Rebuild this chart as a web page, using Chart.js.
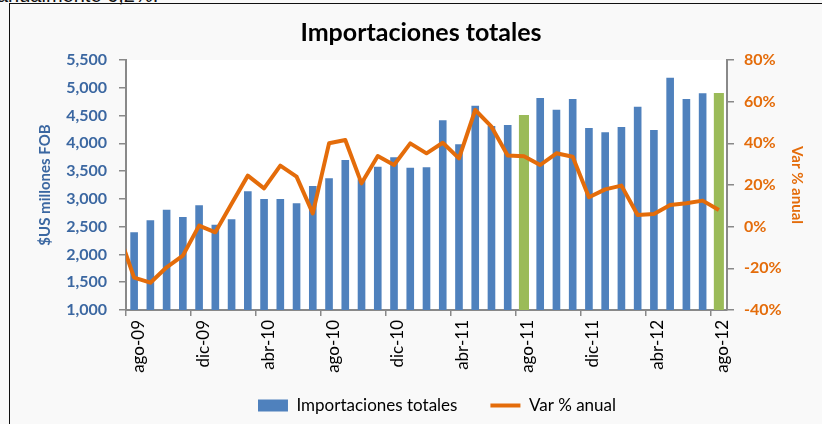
<!DOCTYPE html>
<html lang="es">
<head>
<meta charset="utf-8">
<title>Importaciones totales</title>
<script src="https://cdn.jsdelivr.net/npm/chart.js@4.4.1/dist/chart.umd.min.js"></script>
<style>
  html, body { margin: 0; padding: 0; background: #fff; overflow: hidden; }
  #wrap { position: relative; width: 822px; height: 424px; overflow: hidden; background: #f9f9f9; }
  #frame { position: absolute; left: 9px; top: 3px; right: -4px; bottom: -4px; border-left: 1.5px solid #111; border-top: 1.5px solid #111; pointer-events: none; }
  #prev { position: absolute; left: -3px; top: -16px; font: 20px 'Liberation Sans', sans-serif; color: #111; white-space: nowrap; }
  canvas { position: absolute; left: 0; top: 0; }
</style>
</head>
<body>
<div id="wrap">
  <div id="prev">anualmente 6,2%.</div>
  <canvas id="importChart" width="822" height="424"></canvas>
  <div id="frame"></div>
</div>
<script>
// ── DATOS ─────────────────────────────────────────────
// jul-09 solo aporta el tramo de la linea que entra por la izquierda
const meses = ['jul-09', 'ago-09', 'sep-09', 'oct-09', 'nov-09', 'dic-09', 'ene-10', 'feb-10', 'mar-10', 'abr-10', 'may-10', 'jun-10', 'jul-10',
    'ago-10', 'sep-10', 'oct-10', 'nov-10', 'dic-10', 'ene-11', 'feb-11', 'mar-11', 'abr-11', 'may-11', 'jun-11', 'jul-11',
    'ago-11', 'sep-11', 'oct-11', 'nov-11', 'dic-11', 'ene-12', 'feb-12', 'mar-12', 'abr-12', 'may-12', 'jun-12', 'jul-12', 'ago-12'];
const importaciones = [null, 2400, 2615, 2806, 2674, 2884, 2536, 2632, 3136, 3000, 3000, 2920, 3232,
    3370, 3700, 3352, 3580, 3748, 3562, 3570, 4414, 3982, 4678, 4312, 4330,
    4510, 4816, 4606, 4798, 4276, 4198, 4294, 4660, 4240, 5182, 4798, 4900, 4906];
const varAnual = [-2, -24.5, -26.9, -19.5, -13.9, 0.5, -2.7, 11, 24.5, 18.4, 29.3, 24, 6.4,
    40, 41.6, 20.8, 33.9, 29.6, 40, 35.2, 40.3, 32.8, 56, 48, 34.2,
    33.8, 29.6, 35.2, 33.6, 14.1, 17.9, 19.7, 5.6, 6.1, 10.4, 11.2, 12.5, 8];
const destacados = ['ago-11', 'ago-12'];
const etiquetasX = ['ago-09', 'dic-09', 'abr-10', 'ago-10', 'dic-10', 'abr-11', 'ago-11', 'dic-11', 'abr-12', 'ago-12'];
const ticksUS = [1000, 1500, 2000, 2500, 3000, 3500, 4000, 4500, 5000, 5500];
const ticksPct = [-40, -20, 0, 20, 40, 60, 80];

// ── ESTILO ────────────────────────────────────────────
const AZUL = '#4F81BD', VERDE = '#9BBB59', NARANJA = '#E46C0A', GRIS = '#898989', AZUL_TXT = '#3B67A1';
const FUENTE = 'Lato, "Open Sans", sans-serif';

const barrasAzul = importaciones.map((v, i) => destacados.includes(meses[i]) ? null : v);
const barrasVerde = importaciones.map((v, i) => destacados.includes(meses[i]) ? v : null);

const fondoPlot = {
    id: 'fondoPlot',
    beforeDraw(chart) {
        const { ctx, chartArea: a } = chart;
        ctx.save(); ctx.fillStyle = '#fff'; ctx.fillRect(a.left, a.top, a.right - a.left, a.bottom - a.top); ctx.restore();
    },
    afterLayout(chart) {
        chart.legend.left += 16; chart.legend.right += 16;
        chart.scales.x.bottom += 20;   // las etiquetas se recortan a la caja del eje
    }
};

// ── CHART.JS ──────────────────────────────────────────
new Chart(document.getElementById('importChart'), {
    type: 'bar',
    data: {
        labels: meses,
        datasets: [
            { label: 'Importaciones totales', data: barrasAzul, backgroundColor: AZUL, yAxisID: 'y', grouped: false,
              barPercentage: 0.47, categoryPercentage: 1, pointStyle: 'rect', order: 1 },
            { label: 'verde', data: barrasVerde, backgroundColor: VERDE, yAxisID: 'y', grouped: false,
              barPercentage: 0.62, categoryPercentage: 1, order: 1 },
            { type: 'line', label: 'Var % anual', data: varAnual, yAxisID: 'y2', borderColor: NARANJA, backgroundColor: NARANJA,
              borderWidth: 4, pointRadius: 0, tension: 0, borderJoinStyle: 'round', pointStyle: 'line', order: 0 }
        ]
    },
    options: {
        responsive: false, animation: false, devicePixelRatio: 1,
        layout: { padding: { left: 20, right: 0, top: 0, bottom: 0 } },
        plugins: {
            title: { display: true, text: 'Importaciones totales', color: '#000', font: { family: FUENTE, size: 25, weight: 'bold' }, padding: { top: 18, bottom: 12 } },
            legend: {
                position: 'bottom',
                labels: {
                    usePointStyle: true, pointStyleWidth: 30, boxHeight: 12, padding: 33, color: '#000',
                    font: { family: FUENTE, size: 17 },
                    filter: item => item.text !== 'verde',
                    sort: (a, b) => a.datasetIndex - b.datasetIndex
                }
            },
            tooltip: { enabled: false }
        },
        scales: {
            x: {
                type: 'category', min: 'ago-09', offset: true,
                grid: { offset: true, drawOnChartArea: false, tickLength: 6, lineWidth: 1.5,
                        color: c => (c.tick && etiquetasX.includes(meses[c.tick.value])) ? GRIS : 'rgba(0,0,0,0)' },
                border: { color: GRIS, width: 2 },
                ticks: { autoSkip: false, minRotation: 90, maxRotation: 90, padding: 4, labelOffset: 4, color: '#000', font: { family: FUENTE, size: 17 },
                         callback: v => etiquetasX.includes(meses[v]) ? meses[v] : '' },
                afterFit: s => { s.height = 54; }
            },
            y: {
                position: 'left', min: 1000, max: 5500,
                afterBuildTicks: s => { s.ticks = ticksUS.map(v => ({ value: v })); },
                grid: { drawOnChartArea: false, tickLength: 7, lineWidth: 1.5, color: GRIS },
                border: { color: GRIS, width: 2 },
                ticks: { padding: 12, color: AZUL_TXT, font: { family: FUENTE, size: 16, weight: 'bold' }, callback: v => v.toLocaleString('en-US') },
                title: { display: true, text: '$US millones FOB', color: AZUL_TXT, font: { family: FUENTE, size: 15, weight: 'bold' }, padding: { top: 16, bottom: 0 } },
                afterFit: s => { s.width = 106; }
            },
            y2: {
                position: 'right', min: -40, max: 80,
                afterBuildTicks: s => { s.ticks = ticksPct.map(v => ({ value: v })); },
                grid: { drawOnChartArea: false, tickLength: 7, lineWidth: 1.5, color: GRIS },
                border: { color: GRIS, width: 2 },
                ticks: { padding: 10, color: NARANJA, font: { family: FUENTE, size: 16, weight: 'bold' }, callback: v => v + '%' },
                title: { display: true, text: 'Var % anual', color: NARANJA, font: { family: FUENTE, size: 15, weight: 'bold' }, padding: { top: 16, bottom: 0 } },
                afterFit: s => { s.width = 95; }
            }
        }
    },
    plugins: [fondoPlot]
});
</script>
</body>
</html>
